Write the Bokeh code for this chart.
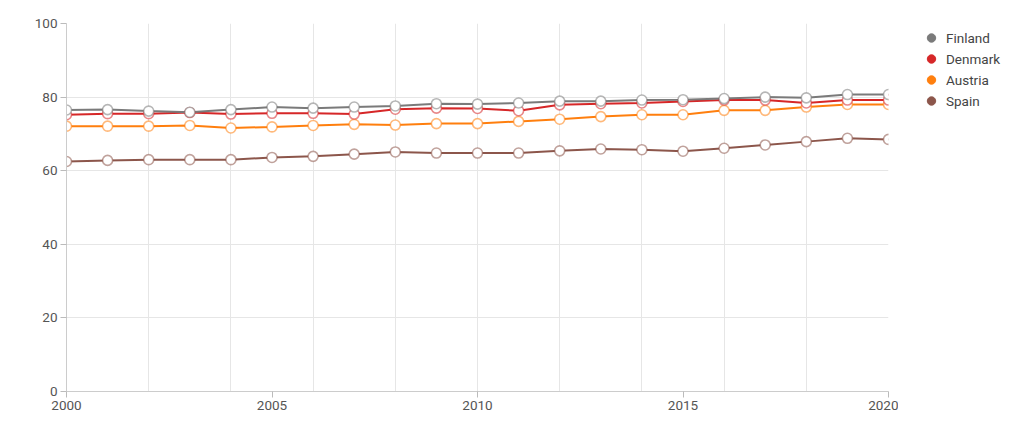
from bokeh.plotting import figure
from bokeh.layouts import row
from bokeh.models import Range1d, FixedTicker, Legend, LegendItem
from bokeh.embed import file_html
from bokeh.resources import INLINE

years = list(range(2000, 2021))
finland = [76.5, 76.6, 76.2, 75.9, 76.6, 77.3, 77.0, 77.3, 77.6, 78.2, 78.1, 78.4, 78.9, 78.9, 79.2, 79.3, 79.6, 80.0, 79.8, 80.7, 80.7]
denmark = [75.2, 75.5, 75.5, 75.8, 75.4, 75.6, 75.6, 75.4, 76.7, 77.0, 76.9, 76.3, 77.9, 78.2, 78.4, 78.8, 79.2, 79.2, 78.4, 79.2, 79.2]
austria = [72.1, 72.1, 72.1, 72.3, 71.6, 71.9, 72.3, 72.6, 72.4, 72.8, 72.8, 73.4, 74.0, 74.7, 75.2, 75.2, 76.4, 76.4, 77.3, 78.0, 78.0]
spain = [62.5, 62.8, 63.0, 63.0, 63.0, 63.6, 63.9, 64.5, 65.1, 64.8, 64.8, 64.8, 65.4, 65.9, 65.7, 65.3, 66.1, 67.0, 67.9, 68.8, 68.5]

names = ["Finland", "Denmark", "Austria", "Spain"]
series = [finland, denmark, austria, spain]
colors = ["#7a7a7a", "#d62728", "#ff7f0e", "#8c564b"]

x_ticks = [2000, 2005, 2010, 2015, 2020]
x_grid = list(range(2000, 2021, 2))
y_ticks = [0, 20, 40, 60, 80, 100]

FONT = "Roboto"

p = figure(width=898, height=420, output_backend="svg", toolbar_location=None,
           x_range=Range1d(2000, 2020), y_range=Range1d(0, 100),
           min_border_left=66, min_border_right=10, min_border_top=23, min_border_bottom=29)
p.outline_line_color = None

for ax in (p.xaxis[0], p.yaxis[0]):
    ax.axis_line_color = "#cccccc"
    ax.major_tick_line_color = "#bbbbbb"
    ax.minor_tick_line_color = None
    ax.major_tick_in = 0
    ax.major_tick_out = 6
    ax.major_label_text_font = FONT
    ax.major_label_text_font_size = "13.5px"
    ax.major_label_text_color = "#555555"
    ax.major_label_standoff = 3
p.xaxis.ticker = FixedTicker(ticks=x_ticks)
p.yaxis.ticker = FixedTicker(ticks=y_ticks)
p.xgrid.ticker = FixedTicker(ticks=x_grid)
p.xgrid.grid_line_color = "#e6e6e6"
p.ygrid.grid_line_color = "#e6e6e6"

for s, c in zip(series[::-1], colors[::-1]):
    p.line(years, s, line_color=c, line_width=2)
for s, c in zip(series[::-1], colors[::-1]):
    p.scatter(years, s, size=10, fill_color="white", line_color=c, line_alpha=0.55, line_width=1.6)

# legend lives in a small companion figure to the right
lg = figure(width=122, height=420, output_backend="svg", toolbar_location=None,
            x_axis_type=None, y_axis_type=None, min_border=0,
            x_range=Range1d(2000, 2020), y_range=Range1d(0, 100))
lg.outline_line_color = None
lg.xgrid.visible = False
lg.ygrid.visible = False

items = []
for n, s, c in zip(names, series, colors):
    r = lg.scatter(years, s, fill_color=c, line_color=c, size=9, visible=False)
    items.append(LegendItem(label=n, renderers=[r]))

legend = Legend(items=items, location=(22, 280), border_line_color=None,
                background_fill_alpha=0, padding=0, margin=0,
                glyph_width=22, glyph_height=21, label_height=21, spacing=0,
                label_standoff=4, label_text_font=FONT, label_text_font_size="13.5px",
                label_text_color="#444444", inactive_fill_alpha=0,
                click_policy="none")
lg.add_layout(legend, "center")

layout = row(p, lg, spacing=0)
open("out.html", "w").write(file_html(layout, INLINE))
